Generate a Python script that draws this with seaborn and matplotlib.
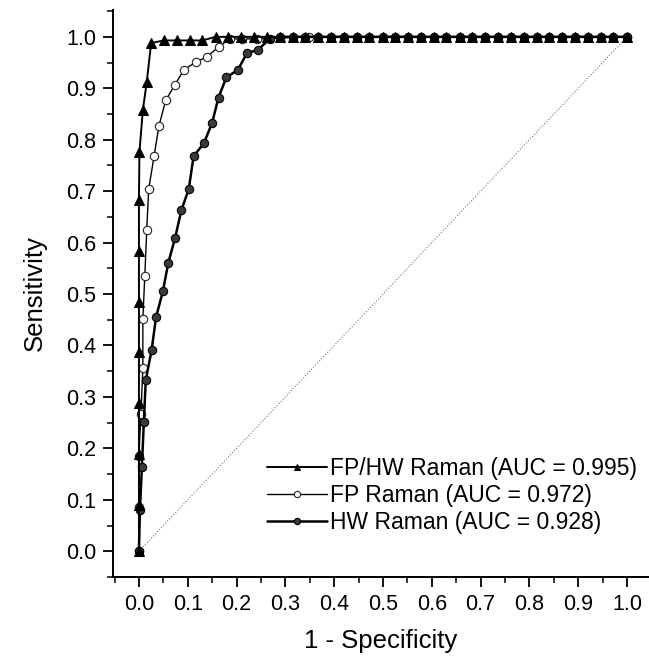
import matplotlib
matplotlib.use("Agg")
import matplotlib.pyplot as plt
import seaborn as sns
import pandas as pd
from matplotlib.ticker import MultipleLocator

# ---- data ----
top_x = [0.051, 0.078, 0.104, 0.130, 0.157, 0.183, 0.209, 0.236, 0.262, 0.288,
         0.315, 0.341, 0.367, 0.393, 0.420, 0.446, 0.472, 0.499, 0.525, 0.551,
         0.578, 0.604, 0.630, 0.657, 0.683, 0.709, 0.736, 0.762, 0.788, 0.815,
         0.841, 0.867, 0.893, 0.920, 0.946, 0.972, 1.000]

fphw_x = [0.0, 0.0, 0.0, 0.0, 0.0, 0.0, 0.0, 0.0, 0.001, 0.008, 0.016, 0.025] + top_x
fphw_y = [0.0, 0.09, 0.19, 0.288, 0.387, 0.484, 0.584, 0.683, 0.776, 0.858, 0.912, 0.988,
          0.993, 0.993, 0.993, 0.993] + [1.0] * 33

fp_x = [0.0, 0.0, 0.0, 0.004, 0.008, 0.008, 0.012, 0.016, 0.020, 0.031, 0.041,
        0.055, 0.074, 0.092, 0.117, 0.139, 0.164, 0.186, 0.211, 0.241, 0.348, 1.0]
fp_y = [0.0, 0.086, 0.185, 0.267, 0.356, 0.451, 0.535, 0.625, 0.704, 0.768, 0.827,
        0.877, 0.907, 0.936, 0.951, 0.961, 0.981, 0.996, 0.996, 0.996, 1.0, 1.0]

hw_x = [0.0, 0.002, 0.006, 0.010, 0.014, 0.026, 0.035, 0.049, 0.060, 0.074, 0.087,
        0.102, 0.112, 0.133, 0.150, 0.163, 0.179, 0.203, 0.221, 0.244, 0.268] + top_x[9:]
hw_y = [0.0, 0.080, 0.163, 0.251, 0.333, 0.391, 0.455, 0.505, 0.560, 0.609, 0.663,
        0.704, 0.768, 0.793, 0.833, 0.882, 0.921, 0.936, 0.968, 0.975, 0.996] + [1.0] * 28

diag_x = [0.0, 1.0]
diag_y = [0.0, 1.0]

labels = ["FP/HW Raman (AUC = 0.995)", "FP Raman (AUC = 0.972)", "HW Raman (AUC = 0.928)"]
x_ticks = [0.0, 0.1, 0.2, 0.3, 0.4, 0.5, 0.6, 0.7, 0.8, 0.9, 1.0]
y_ticks = [0.0, 0.1, 0.2, 0.3, 0.4, 0.5, 0.6, 0.7, 0.8, 0.9, 1.0]

# ---- style ----
sns.set_style("ticks")
plt.rcParams["font.family"] = ["Liberation Sans", "DejaVu Sans"]
plt.rcParams["text.color"] = "black"
plt.rcParams["axes.labelcolor"] = "black"
plt.rcParams["xtick.color"] = "black"
plt.rcParams["ytick.color"] = "black"

fig = plt.figure(figsize=(6.49, 6.56), dpi=100)
ax = fig.add_axes([0.174, 0.120, 0.826, 0.865])

sns.lineplot(x=diag_x, y=diag_y, ax=ax, color="#777777", linestyle=":", linewidth=0.8,
             estimator=None, sort=False)

sns.lineplot(x=fp_x, y=fp_y, ax=ax, color="black", linewidth=1.0, marker="o",
             markersize=6, markerfacecolor="white", markeredgecolor="#222222",
             markeredgewidth=0.8, estimator=None, sort=False, label=labels[1])
sns.lineplot(x=hw_x, y=hw_y, ax=ax, color="black", linewidth=1.8, marker="o",
             markersize=6, markerfacecolor="#3a3a3a", markeredgecolor="black",
             markeredgewidth=0.8, estimator=None, sort=False, label=labels[2])
sns.lineplot(x=fphw_x, y=fphw_y, ax=ax, color="black", linewidth=1.4, marker="^",
             markersize=6.5, markerfacecolor="black", markeredgecolor="black",
             estimator=None, sort=False, label=labels[0])

ax.set_xlim(-0.0533, 1.045)
ax.set_ylim(-0.0506, 1.0525)
ax.set_xticks(x_ticks)
ax.set_yticks(y_ticks)
ax.set_xticklabels([f"{v:.1f}" for v in x_ticks])
ax.set_yticklabels([f"{v:.1f}" for v in y_ticks])
ax.xaxis.set_minor_locator(MultipleLocator(0.05))
ax.yaxis.set_minor_locator(MultipleLocator(0.05))
ax.tick_params(which="major", direction="out", length=7, width=1.3, labelsize=15.5,
               colors="black", pad=5)
ax.tick_params(which="minor", direction="out", length=4, width=1.1, colors="black")

for s in ["top", "right"]:
    ax.spines[s].set_visible(False)
for s in ["left", "bottom"]:
    ax.spines[s].set_linewidth(1.4)
    ax.spines[s].set_color("black")

ax.set_xlabel("1 - Specificity", fontsize=18.5, labelpad=10, color="black")
ax.set_ylabel("Sensitivity", fontsize=18.5, labelpad=14, color="black")

handles, labs = ax.get_legend_handles_labels()
order = [labs.index(l) for l in labels]
leg = ax.legend([handles[i] for i in order], [labs[i] for i in order],
                loc="lower right", bbox_to_anchor=(1.004, 0.052), frameon=False,
                fontsize=16.5, handlelength=2.6, handletextpad=0.15, labelspacing=0.18,
                markerscale=0.75, borderaxespad=0.2)
for t in leg.get_texts():
    t.set_color("black")

fig.savefig("out.png", dpi=100)
